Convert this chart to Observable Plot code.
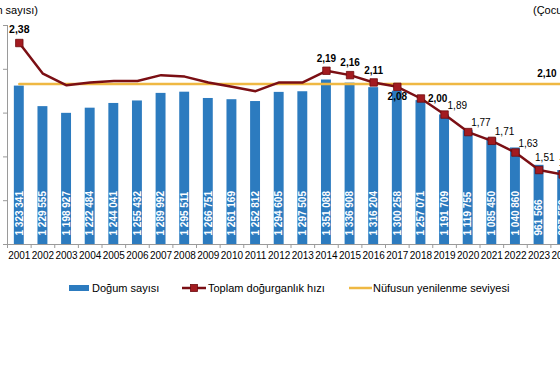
<!DOCTYPE html>
<html><head><meta charset="utf-8">
<script src="https://cdn.jsdelivr.net/npm/d3@7"></script>
<script src="https://cdn.jsdelivr.net/npm/@observablehq/plot@0.6"></script>
<style>
html,body{margin:0;padding:0;background:#fff;overflow:hidden;}
#wrap{position:relative;width:560px;height:380px;overflow:hidden;font-family:"Liberation Sans",Arial,sans-serif;color:#000;}
#chart{position:absolute;left:-43px;top:0;width:657px;}
#chart svg{max-width:none !important;}
.hdr{position:absolute;top:4px;font-size:11px;white-space:nowrap;}
.lg{position:absolute;font-size:11px;white-space:nowrap;line-height:12px;}
</style></head><body>
<div id="wrap">
  <div id="chart"></div>
  <div class="hdr" style="right:522px">(Doğum sayısı)</div>
  <div class="hdr" style="left:533px">(Çocuk sayısı)</div>
  <div id="legend"></div>
</div>
<script>
// ---- data ----
const years = [2001,2002,2003,2004,2005,2006,2007,2008,2009,2010,2011,2012,2013,2014,2015,2016,2017,2018,2019,2020,2021,2022,2023,2024];
const births = [1323341,1229555,1198927,1222484,1244041,1255432,1289992,1295511,1266751,1261169,1252812,1294605,1297505,1351088,1336908,1316204,1300258,1257071,1191709,1119755,1085450,1040860,961566,937559];
const fertility = [2.38,2.17,2.09,2.11,2.12,2.12,2.16,2.15,2.11,2.08,2.05,2.11,2.11,2.19,2.16,2.11,2.08,2.00,1.89,1.77,1.71,1.63,1.51,1.48];
const replacementLevel = 2.10;
const markedYears = [2001,2014,2015,2016,2017,2018,2019,2020,2021,2022,2023,2024];
const birthsDomain = [600000, 1600000];
const birthsTicks = [600000, 800000, 1000000, 1200000, 1400000, 1600000];
const fertilityDomain = [1.0, 2.5];
const fertilityTicks = [1.0, 1.5, 2.0, 2.5];
const legendLabels = ["Doğum sayısı", "Toplam doğurganlık hızı", "Nüfusun yenilenme seviyesi"];

// ---- helpers ----
const toLeft = f => birthsDomain[0] + (f - fertilityDomain[0]) / (fertilityDomain[1] - fertilityDomain[0]) * (birthsDomain[1] - birthsDomain[0]);
const fmtBirths = d => d3.format(",")(d).replace(/,/g, " ");
const fmtRate = d => d3.format(".2f")(d).replace(".", ",");

const rows = years.map((y, i) => ({year: String(y), births: births[i], rate: fertility[i], yr: y}));
const marked = rows.filter(d => markedYears.includes(d.yr));
const replRows = years.map(y => ({year: String(y), v: toLeft(replacementLevel)}));

function placement(y) {
  if (y === 2001 || (y >= 2014 && y <= 2016)) return "above";
  if (y === 2017) return "below";
  if (y === 2018) return "right";
  if (y >= 2019 && y <= 2022) return "upright";
  return "upleft";
}
const group = k => marked.filter(d => placement(d.yr) === k);

const W = 657, ML = 50, MR = 40;
const step = (W - ML - MR) / years.length;
const font = "Liberation Sans, Arial, sans-serif";

const chart = Plot.plot({
  width: W, height: 270,
  marginLeft: ML, marginRight: MR, marginTop: 25, marginBottom: 26,
  style: {fontFamily: font, background: "#fff", color: "#000", maxWidth: "none"},
  x: {type: "band", domain: years.map(String), paddingInner: 0.58, paddingOuter: 0.29, round: false, axis: null},
  y: {domain: birthsDomain, axis: null},
  marks: [
    // left axis (its labels lie outside the visible crop, as in the reference)
    Plot.ruleX(["2001"], {x: d => d, dx: -step / 2, y1: birthsDomain[0], y2: birthsDomain[1], stroke: "#9a9a9a"}),
    Plot.axisY({ticks: birthsTicks, tickSize: 4, tickFormat: () => "", label: null, stroke: "#9a9a9a"}),
    // right axis ticks (outside the visible crop)
    Plot.axisY({anchor: "right", ticks: fertilityTicks.map(toLeft), tickSize: 4, tickFormat: () => "", label: null, stroke: "#9a9a9a"}),
    // bars
    Plot.barY(rows, {x: "year", y1: birthsDomain[0], y2: "births", fill: "#2c7bbf"}),
    // x axis baseline and boundary ticks
    Plot.ruleY([birthsDomain[0]], {stroke: "#9a9a9a"}),
    Plot.axisX({tickSize: 4, tickFormat: () => "", label: null, dx: -step / 2, stroke: "#9a9a9a"}),
    Plot.axisX({tickSize: 0, tickPadding: 7, fontSize: 10, label: null, fill: "#000"}),
    // bar value labels
    Plot.text(rows, {x: "year", y: () => birthsDomain[0], text: d => fmtBirths(d.births), rotate: -90,
      textAnchor: "start", dy: -9, fill: "#fff", fontSize: 10, fontWeight: "bold"}),
    // replacement level
    Plot.lineY(replRows, {x: "year", y: "v", stroke: "#efb843", strokeWidth: 2.5}),
    Plot.text([replRows[replRows.length - 1]], {x: "year", y: "v", text: () => fmtRate(replacementLevel),
      textAnchor: "end", dx: -6, dy: -10, fontSize: 10, fill: "#000", fontWeight: "bold"}),
    // fertility line
    Plot.lineY(rows, {x: "year", y: d => toLeft(d.rate), stroke: "#7b0f14", strokeWidth: 2.5}),
    Plot.dot(marked, {x: "year", y: d => toLeft(d.rate), symbol: "square", r: 4.2, fill: "#a31b20", stroke: "#6d0b0e", strokeWidth: 0.8}),
    // fertility labels
    Plot.text(group("above").filter(d => d.yr === 2001), {x: "year", y: d => toLeft(d.rate), text: d => fmtRate(d.rate), dy: -13, fontSize: 10.5, fontWeight: "bold", fill: "#000"}),
    Plot.text(group("above").filter(d => d.yr !== 2001), {x: "year", y: d => toLeft(d.rate), text: d => fmtRate(d.rate), dy: -12, fontSize: 10, fontWeight: "bold", fill: "#000"}),
    Plot.text(group("below"), {x: "year", y: d => toLeft(d.rate), text: d => fmtRate(d.rate), dy: 10, fontSize: 10, fontWeight: "bold", fill: "#000"}),
    Plot.text(group("right"), {x: "year", y: d => toLeft(d.rate), text: d => fmtRate(d.rate), textAnchor: "start", dx: 7, dy: 0, fontSize: 10, fontWeight: "bold", fill: "#000"}),
    Plot.text(group("upright"), {x: "year", y: d => toLeft(d.rate), text: d => fmtRate(d.rate), textAnchor: "start", dx: 3, dy: -9, fontSize: 10, fill: "#000"}),
    Plot.text(group("upleft"), {x: "year", y: d => toLeft(d.rate), text: d => fmtRate(d.rate), textAnchor: "start", dx: -4, dy: -12, fontSize: 10, fill: "#000"})
  ]
});
document.getElementById("chart").appendChild(chart);

// ---- legend ----
const lg = document.getElementById("legend");
lg.innerHTML = `
  <div style="position:absolute;left:69px;top:285px;width:20px;height:6px;background:#2c7bbf"></div>
  <div class="lg" style="left:92px;top:282px">${legendLabels[0]}</div>
  <svg style="position:absolute;left:182px;top:283px" width="24" height="10">
    <line x1="0" y1="5" x2="24" y2="5" stroke="#7b0f14" stroke-width="2.5"/>
    <rect x="8.5" y="1.5" width="7" height="7" fill="#a31b20" stroke="#6d0b0e" stroke-width="0.8"/>
  </svg>
  <div class="lg" style="left:208px;top:282px">${legendLabels[1]}</div>
  <svg style="position:absolute;left:349px;top:283px" width="23" height="10">
    <line x1="0" y1="5" x2="23" y2="5" stroke="#efb843" stroke-width="2.5"/>
  </svg>
  <div class="lg" style="left:373px;top:282px">${legendLabels[2]}</div>`;
</script>
</body></html>
